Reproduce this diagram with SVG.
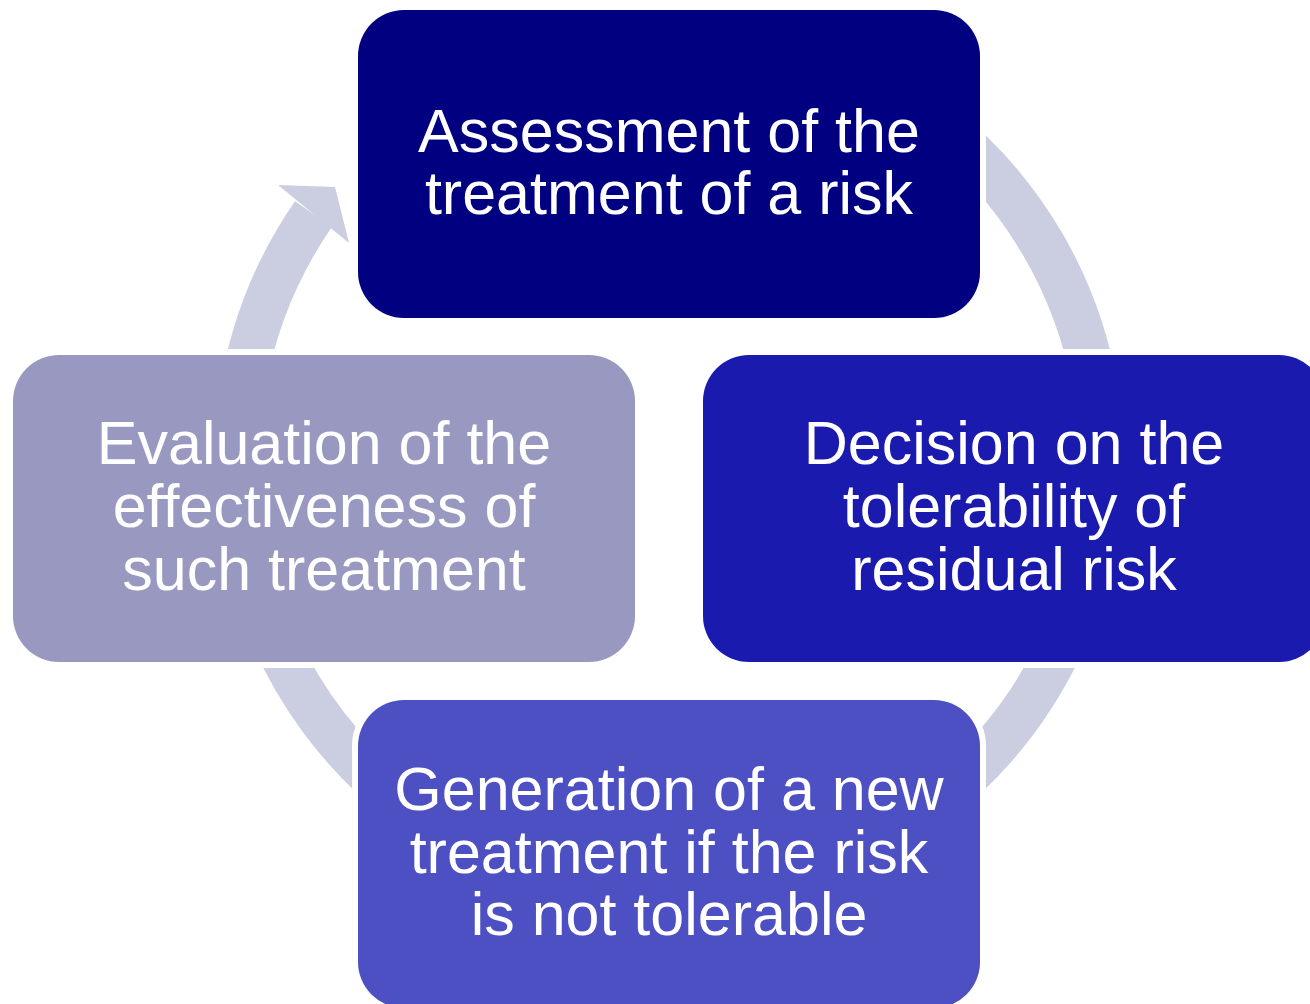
<svg xmlns="http://www.w3.org/2000/svg" width="1310" height="1004" viewBox="0 0 1310 1004">
<style>
.ring{fill:none;stroke:#cbcde0;stroke-width:45;stroke-linecap:butt}
.head{fill:#cbcde0}
.box{stroke:#ffffff;stroke-width:12;paint-order:stroke}
.lbl{fill:#ffffff;font-family:"Liberation Sans",Arial,sans-serif;font-size:61px;text-anchor:middle}
</style>
<rect width="1310" height="1004" fill="#ffffff"/>
<g id="connectors">
<path class="ring" d="M940,125 A432.5,432.5 0 0 1 1095.5,390"/>
<path class="ring" d="M1071.6,620 A432.5,432.5 0 0 1 940,799"/>
<path class="ring" d="M398,799 A432.5,432.5 0 0 1 266.4,620"/>
<path class="ring" d="M242.5,390 A432.5,432.5 0 0 1 313.5,214"/>
<polygon class="head" points="278,185 335,187 349,243"/>
</g>
<g id="node-top">
<rect class="box" x="358" y="10" width="622" height="308" rx="46" fill="#000080"/>
<text class="lbl" x="669" y="151.7">Assessment of the</text>
<text class="lbl" x="669" y="213.5">treatment of a risk</text>
</g>
<g id="node-right">
<rect class="box" x="703" y="355" width="622" height="307" rx="46" fill="#1a1aaf"/>
<text class="lbl" x="1014" y="463.5">Decision on the</text>
<text class="lbl" x="1014" y="526.5">tolerability of</text>
<text class="lbl" x="1014" y="589.5">residual risk</text>
</g>
<g id="node-bottom">
<rect class="box" x="358" y="700" width="622" height="308" rx="46" fill="#4d50c2"/>
<text class="lbl" x="669" y="810">Generation of a new</text>
<text class="lbl" x="669" y="872.5">treatment if the risk</text>
<text class="lbl" x="669" y="935">is not tolerable</text>
</g>
<g id="node-left">
<rect class="box" x="13" y="355" width="622" height="307" rx="46" fill="#9898c0"/>
<text class="lbl" x="324" y="463.5">Evaluation of the</text>
<text class="lbl" x="324" y="526.5">effectiveness of</text>
<text class="lbl" x="324" y="589.5">such treatment</text>
</g>
</svg>
